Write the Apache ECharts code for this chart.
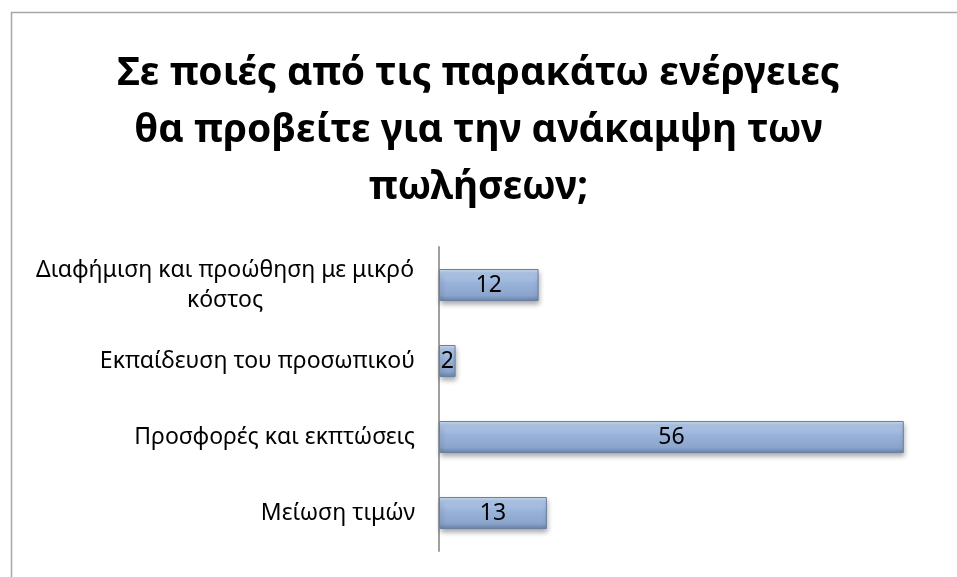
<!DOCTYPE html>
<html><head><meta charset="utf-8">
<script src="https://cdn.jsdelivr.net/npm/echarts@6/dist/echarts.min.js"></script>
<style>html,body{margin:0;padding:0;background:#fff}#c{width:957px;height:577px}</style>
</head><body><div id="c"></div>
<script>
const titleText = 'Σε ποιές από τις παρακάτω ενέργειες\nθα προβείτε για την ανάκαμψη των\nπωλήσεων;';
const categories = ['Διαφήμιση και προώθηση με μικρό\nκόστος', 'Εκπαίδευση του προσωπικού', 'Προσφορές και εκπτώσεις', 'Μείωση τιμών'];
const values = [12, 2, 56, 13];

const chart = echarts.init(document.getElementById('c'));
const fontFam = '"Noto Sans", sans-serif';
chart.setOption({
  backgroundColor: '#fff',
  animation: false,
  title: {
    text: titleText,
    left: 'center',
    top: 40,
    textStyle: { fontFamily: fontFam, fontWeight: 'bold', fontSize: 39, lineHeight: 57, color: '#000' }
  },
  graphic: [{
    type: 'rect', left: 9, top: 10, silent: true,
    shape: { width: 1000, height: 1000 },
    style: { fill: 'none', stroke: '#a6a6a6', lineWidth: 1.5 }
  }],
  grid: { left: 439, right: 20, top: 247, bottom: 26, containLabel: false },
  xAxis: { type: 'value', min: 0, max: 60, show: false },
  yAxis: {
    type: 'category', inverse: true, data: categories,
    axisLine: { show: true, lineStyle: { color: '#a0a0a0', width: 2 } },
    axisTick: { show: false },
    axisLabel: {
      margin: 24, color: '#000', fontFamily: fontFam, fontSize: 23,
      formatter: function (v) {
        if (v.indexOf('\n') >= 0) {
          return v.split('\n').map(s => '{w|' + s + '}').join('\n');
        }
        return v;
      },
      rich: { w: { width: 380, align: 'center', fontFamily: fontFam, fontSize: 23, lineHeight: 30, color: '#000' } }
    }
  },
  series: [{
    type: 'bar', data: values, barWidth: 32,
    itemStyle: {
      color: new echarts.graphic.LinearGradient(0, 0, 0, 1, [
        { offset: 0, color: '#d0e2f8' },
        { offset: 0.12, color: '#b2c9ea' },
        { offset: 0.45, color: '#98b2d9' },
        { offset: 0.82, color: '#8ba5cd' },
        { offset: 1, color: '#6a82a8' }
      ]),
      borderColor: '#6a7fa3', borderWidth: 1,
      shadowColor: 'rgba(0,0,0,0.35)', shadowBlur: 5, shadowOffsetY: 3, shadowOffsetX: 1
    },
    label: { show: true, position: 'inside', color: '#000', fontFamily: fontFam, fontSize: 23 }
  }]
});
</script></body></html>
